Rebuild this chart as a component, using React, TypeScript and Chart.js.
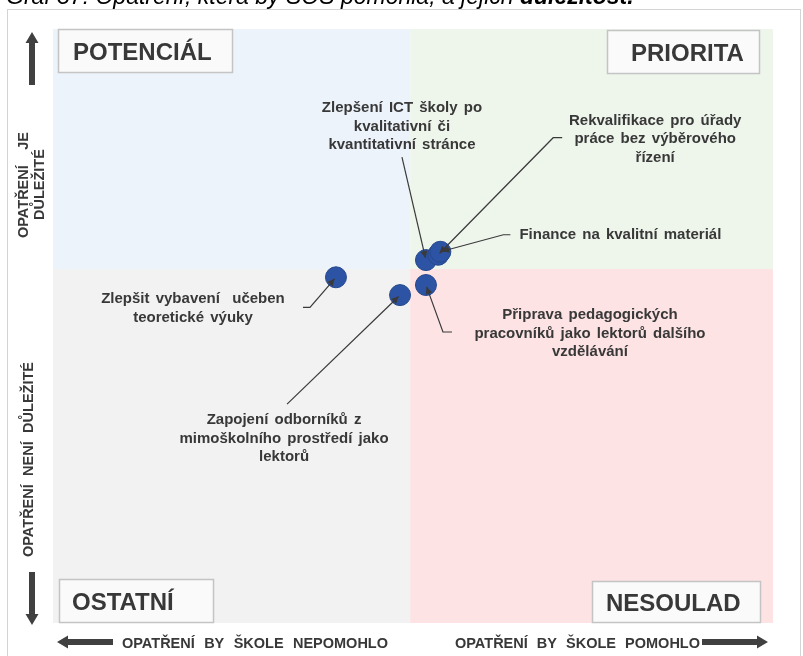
import React, { useEffect, useRef } from "react";
import { Chart, registerables } from "chart.js";
Chart.register(...registerables);

// ---------- data ----------
const TITLE_MAIN = "Graf 37: Opatření, která by SOŠ pomohla, a jejich ";
const TITLE_BOLD = "důležitost.";

const MEASURE_LABELS: string[][] = [
  ["Zlepšit vybavení  učeben", "teoretické výuky"],
  ["Zapojení odborníků z", "mimoškolního prostředí jako", "lektorů"],
  ["Připrava pedagogických", "pracovníků jako lektorů dalšího", "vzdělávání"],
  ["Zlepšení ICT školy po", "kvalitativní či", "kvantitativní stránce"],
  ["Rekvalifikace pro úřady", "práce bez výběrového", "řízení"],
  ["Finance na kvalitní materiál"],
];
// how much the measure would help the school (horizontal)
const HELP_X = [39.3, 48.2, 51.8, 51.8, 53.5, 53.8];
// importance of the measure (vertical)
const IMPORTANCE_Y = [58.2, 55.2, 56.9, 61.1, 62.0, 62.5];

const X_MIN = 0;
const X_MAX = 100;
const Y_MIN = 0;
const Y_MAX = 100;
const X_SPLIT = 49.6;
const Y_SPLIT = 59.6;

const QUADRANT_NAMES = ["POTENCIÁL", "PRIORITA", "OSTATNÍ", "NESOULAD"];
const X_AXIS_LABELS = ["OPATŘENÍ BY ŠKOLE NEPOMOHLO", "OPATŘENÍ BY ŠKOLE POMOHLO"];
const Y_AXIS_LABELS = [["OPATŘENÍ JE", "DŮLEŽITÉ"], ["OPATŘENÍ NENÍ DŮLEŽITÉ"]];

// ---------- style / layout (not data) ----------
const FONT = '"Liberation Sans", Arial, Helvetica, sans-serif';
const TEXT = "#383838";
const POINT_FILL = "#2d54a4";
const POINT_BORDER = "#27488d";
const QUAD_COLORS = ["#edf3fb", "#eef6ec", "#f2f2f2", "#fde3e4"];

// label placement relative to point pixel (text first-line centre, leader path)
const LABEL_LAYOUT = [
  { tx: -143, ty: 22, path: [[-33, 30], [-26, 30]] },
  { tx: -116, ty: 125, path: [[-113, 109]] },
  { tx: 164, ty: 30, path: [[26, 47], [17, 47]] },
  { tx: -24, ty: -152, path: [[-24, -103]] },
  { tx: 217, ty: -134, path: [[124, -117], [115, -117]] },
  { tx: 180, ty: -17, path: [[70, -17], [63, -17]] },
];
const LINE_H = 18.5;

function drawSpread(ctx: CanvasRenderingContext2D, text: string, x: number, y: number, width: number) {
  const words = text.split(" ");
  const ws = words.map((w) => ctx.measureText(w).width);
  const total = ws.reduce((a, b) => a + b, 0);
  const gap = words.length > 1 ? (width - total) / (words.length - 1) : 0;
  let cx = x;
  ctx.textAlign = "left";
  words.forEach((w, i) => {
    ctx.fillText(w, cx, y);
    cx += ws[i] + gap;
  });
}

function blockArrow(ctx: CanvasRenderingContext2D, x1: number, y1: number, x2: number, y2: number, shaft: number, headW: number, headL: number) {
  const ang = Math.atan2(y2 - y1, x2 - x1);
  const len = Math.hypot(x2 - x1, y2 - y1);
  ctx.save();
  ctx.translate(x1, y1);
  ctx.rotate(ang);
  ctx.beginPath();
  ctx.moveTo(0, -shaft / 2);
  ctx.lineTo(len - headL, -shaft / 2);
  ctx.lineTo(len - headL, -headW / 2);
  ctx.lineTo(len, 0);
  ctx.lineTo(len - headL, headW / 2);
  ctx.lineTo(len - headL, shaft / 2);
  ctx.lineTo(0, shaft / 2);
  ctx.closePath();
  ctx.fillStyle = "#404040";
  ctx.fill();
  ctx.restore();
}

const quadPlugin = {
  id: "quadrants",
  beforeDraw(chart: any) {
    const ctx: CanvasRenderingContext2D = chart.ctx;
    const { left, right, top, bottom } = chart.chartArea;
    const xs = chart.scales.x.getPixelForValue(X_SPLIT);
    const ys = chart.scales.y.getPixelForValue(Y_SPLIT);
    ctx.save();
    ctx.fillStyle = "#ffffff";
    ctx.fillRect(0, 0, chart.width, chart.height);

    // title (mostly cut off at the top)
    ctx.fillStyle = "#000";
    ctx.textBaseline = "alphabetic";
    ctx.textAlign = "left";
    ctx.font = `italic 23px ${FONT}`;
    ctx.fillText(TITLE_MAIN, 6, 4);
    const w1 = ctx.measureText(TITLE_MAIN).width;
    ctx.font = `italic bold 23px ${FONT}`;
    ctx.fillText(TITLE_BOLD, 6 + w1, 4);

    // outer frame
    ctx.strokeStyle = "#d4d4d4";
    ctx.lineWidth = 1;
    ctx.strokeRect(7.5, 9.5, 793, 660);

    // quadrants
    ctx.fillStyle = QUAD_COLORS[0];
    ctx.fillRect(left, top, xs - left, ys - top);
    ctx.fillStyle = QUAD_COLORS[1];
    ctx.fillRect(xs, top, right - xs, ys - top);
    ctx.fillStyle = QUAD_COLORS[2];
    ctx.fillRect(left, ys, xs - left, bottom - ys);
    ctx.fillStyle = QUAD_COLORS[3];
    ctx.fillRect(xs, ys, right - xs, bottom - ys);

    // quadrant name boxes
    const boxes = [
      { x: left + 5, y: top, w: 175, h: 44, tx: left + 20 },
      { x: right - 166, y: top + 1, w: 153, h: 44, tx: right - 142 },
      { x: left + 6, y: bottom - 44, w: 155, h: 44, tx: left + 19 },
      { x: right - 181, y: bottom - 42, w: 169, h: 42, tx: right - 167 },
    ];
    boxes.forEach((b, i) => {
      ctx.fillStyle = "#fafafa";
      ctx.fillRect(b.x, b.y, b.w, b.h);
      ctx.strokeStyle = "#c4c4c4";
      ctx.lineWidth = 1.5;
      ctx.strokeRect(b.x + 0.5, b.y + 0.5, b.w - 1, b.h - 1);
      ctx.font = `bold 24px ${FONT}`;
      ctx.fillStyle = TEXT;
      ctx.textAlign = "left";
      ctx.textBaseline = "alphabetic";
      ctx.fillText(QUADRANT_NAMES[i], b.tx, b.y + b.h / 2 + 8.5);
    });

    // axis arrows
    blockArrow(ctx, left - 21, top + 56, left - 21, top + 3, 6, 13, 11);
    blockArrow(ctx, left - 21, bottom - 51, left - 21, bottom + 2, 6, 13, 11);
    blockArrow(ctx, left + 60, bottom + 19, left + 4, bottom + 19, 6, 13, 11);
    blockArrow(ctx, right - 71, bottom + 19, right - 5, bottom + 19, 6, 13, 11);

    // axis texts
    ctx.fillStyle = TEXT;
    ctx.font = `bold 14.5px ${FONT}`;
    ctx.textBaseline = "alphabetic";
    drawSpread(ctx, X_AXIS_LABELS[0], 122, bottom + 24.5, 266);
    drawSpread(ctx, X_AXIS_LABELS[1], 455, bottom + 24.5, 245);

    // vertical texts
    const vert = (text: string, cx: number, cy: number, width: number) => {
      ctx.save();
      ctx.translate(cx, cy);
      ctx.rotate(-Math.PI / 2);
      drawSpread(ctx, text, -width / 2, 5, width);
      ctx.restore();
    };
    vert(Y_AXIS_LABELS[0][0], 23, 185, 106);
    vert(Y_AXIS_LABELS[0][1], 39, 185, 70);
    vert(Y_AXIS_LABELS[1][0], 28, 459.5, 195);
    ctx.restore();
  },
  afterDatasetsDraw(chart: any) {
    const ctx: CanvasRenderingContext2D = chart.ctx;
    const sx = chart.scales.x;
    const sy = chart.scales.y;
    ctx.save();
    HELP_X.forEach((xv, i) => {
      const px = sx.getPixelForValue(xv);
      const py = sy.getPixelForValue(IMPORTANCE_Y[i]);
      const lay = LABEL_LAYOUT[i];
      // leader line
      const pts = lay.path.map(([dx, dy]) => [px + dx, py + dy]);
      const last = pts[pts.length - 1];
      const ang = Math.atan2(py - last[1], px - last[0]);
      const ex = px - Math.cos(ang) * 2;
      const ey = py - Math.sin(ang) * 2;
      ctx.strokeStyle = "#3a3a3a";
      ctx.lineWidth = 1.2;
      ctx.beginPath();
      ctx.moveTo(pts[0][0], pts[0][1]);
      pts.slice(1).forEach((p) => ctx.lineTo(p[0], p[1]));
      ctx.lineTo(ex, ey);
      ctx.stroke();
      // arrow head
      ctx.fillStyle = "#3a3a3a";
      ctx.beginPath();
      ctx.moveTo(ex, ey);
      ctx.lineTo(ex - Math.cos(ang) * 7 + Math.sin(ang) * 3.5, ey - Math.sin(ang) * 7 - Math.cos(ang) * 3.5);
      ctx.lineTo(ex - Math.cos(ang) * 7 - Math.sin(ang) * 3.5, ey - Math.sin(ang) * 7 + Math.cos(ang) * 3.5);
      ctx.closePath();
      ctx.fill();
      // label text
      ctx.font = `bold 15px ${FONT}`;
      ctx.fillStyle = TEXT;
      ctx.textAlign = "center";
      ctx.textBaseline = "middle";
      (ctx as any).wordSpacing = "2px";
      MEASURE_LABELS[i].forEach((line, k) => {
        ctx.fillText(line, px + lay.tx, py + lay.ty + k * LINE_H);
      });
      (ctx as any).wordSpacing = "0px";
    });
    ctx.restore();
  },
};

export default function App() {
  const ref = useRef<HTMLCanvasElement>(null);
  useEffect(() => {
    const canvas = ref.current!;
    const chart = new Chart(canvas, {
      type: "scatter",
      data: {
        datasets: [
          {
            data: HELP_X.map((x, i) => ({ x, y: IMPORTANCE_Y[i] })),
            backgroundColor: POINT_FILL,
            borderColor: POINT_BORDER,
            borderWidth: 1,
            pointRadius: 10.5,
            pointHoverRadius: 10.5,
          },
        ],
      },
      options: {
        responsive: false,
        animation: false,
        events: [],
        layout: { padding: { left: 53, right: 30, top: 29, bottom: 33 } },
        scales: {
          x: { type: "linear", min: X_MIN, max: X_MAX, display: false },
          y: { type: "linear", min: Y_MIN, max: Y_MAX, display: false },
        },
        plugins: {
          legend: { display: false },
          tooltip: { enabled: false },
          title: { display: false },
        },
      },
      plugins: [quadPlugin],
    } as any);
    return () => chart.destroy();
  }, []);
  return (
    <div style={{ position: "fixed", left: 0, top: 0, width: 803, height: 656, background: "#fff" }}>
      <canvas ref={ref} width={803} height={656} style={{ display: "block", width: 803, height: 656 }} />
    </div>
  );
}
